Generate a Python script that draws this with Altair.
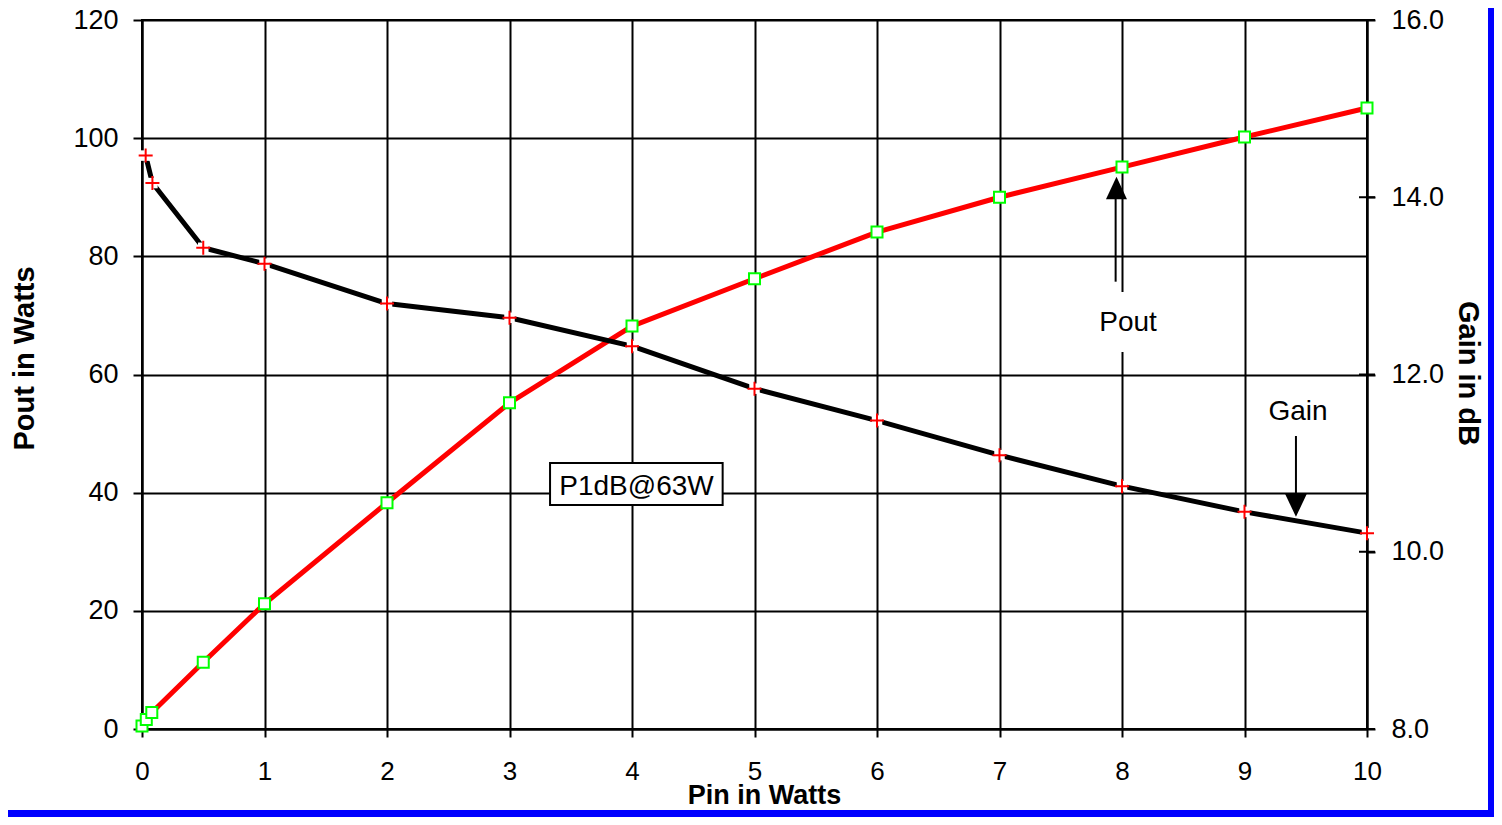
import altair as alt
import pandas as pd

FONT = "Arial, Liberation Sans, sans-serif"

# ---- data ----
pin_pout = [0.0, 0.035, 0.08, 0.5, 1, 2, 3, 4, 5, 6, 7, 8, 9, 10]
pout_w = [0.5, 1.6, 2.8, 11.3, 21.2, 38.3, 55.2, 68.2, 76.2, 84.1, 90.0, 95.1, 100.2, 105.1]
pin_gain = [0.03, 0.085, 0.5, 1, 2, 3, 4, 5, 6, 7, 8, 9, 10]
gain_db = [14.47, 14.16, 13.43, 13.25, 12.80, 12.64, 12.32, 11.84, 11.48, 11.09, 10.74, 10.45, 10.21]

x_ticks = [0, 1, 2, 3, 4, 5, 6, 7, 8, 9, 10]
pout_ticks = [0, 20, 40, 60, 80, 100, 120]
gain_ticks = [8, 10, 12, 14, 16]

pout_df = pd.DataFrame({"pin": pin_pout, "pout": pout_w})
gain_df = pd.DataFrame({"pin": pin_gain, "gain": gain_db})
tick_df = pd.DataFrame({"pin": [10] * len(gain_ticks), "gain": gain_ticks})

xs = alt.Scale(domain=[0, 10], nice=False, zero=False)
ysp = alt.Scale(domain=[0, 120], nice=False, zero=False)
ysg = alt.Scale(domain=[8, 16], nice=False, zero=False)

x_axis = alt.Axis(values=x_ticks, grid=True, gridColor="black", gridWidth=2,
                  tickSize=8, tickWidth=2, tickColor="black",
                  domainColor="black", domainWidth=2,
                  labelFont=FONT, labelFontSize=26, labelColor="black",
                  labelPadding=21, labelFlush=False, labelOverlap=False,
                  title="Pin in Watts", titleFont=FONT, titleFontSize=27,
                  titleFontWeight="bold", titleColor="black",
                  titleX=622, titleY=74, titleAlign="center",
                  titleBaseline="alphabetic")

yp_axis = alt.Axis(values=pout_ticks, grid=True, gridColor="black", gridWidth=2,
                   tickSize=9, tickWidth=2, tickColor="black",
                   domainColor="black", domainWidth=2,
                   labelFont=FONT, labelFontSize=27, labelColor="black",
                   labelPadding=15, labelFlush=False, labelOverlap=False,
                   title="Pout in Watts", titleFont=FONT, titleFontSize=29,
                   titleFontWeight="bold", titleColor="black",
                   titleAngle=270, titleX=-109, titleY=338,
                   titleAlign="center", titleBaseline="alphabetic")

yg_axis = alt.Axis(orient="right", values=gain_ticks, format=".1f", grid=False,
                   tickSize=8, tickWidth=2, tickColor="black",
                   domainColor="black", domainWidth=2,
                   labelFont=FONT, labelFontSize=27, labelColor="black",
                   labelPadding=16, labelFlush=False, labelOverlap=False,
                   title="Gain in dB", titleFont=FONT, titleFontSize=29,
                   titleFontWeight="bold", titleColor="black",
                   titleAngle=90, titleX=91, titleY=353,
                   titleAlign="center", titleBaseline="alphabetic")


def X(field="pin", axis=None):
    return alt.X(f"{field}:Q", scale=xs, axis=axis)


def YP(field="pout", axis=None):
    return alt.Y(f"{field}:Q", scale=ysp, axis=axis)


def YG(field="gain", axis=None):
    return alt.Y(f"{field}:Q", scale=ysg, axis=axis)


pout_line = alt.Chart(pout_df).mark_line(color="#FF0000", strokeWidth=5, strokeJoin="round").encode(
    x=X(axis=x_axis), y=YP(axis=yp_axis))

gain_line = alt.Chart(gain_df).mark_line(color="black", strokeWidth=5, strokeJoin="round").encode(
    x=X(), y=YG(axis=yg_axis))

inner_ticks = alt.Chart(tick_df).mark_tick(orient="horizontal", size=16, thickness=2,
                                           color="black", opacity=1).encode(
    x=X(), y=YG())

pout_pts = alt.Chart(pout_df).mark_point(shape="square", size=121, filled=True, fill="white",
                                         stroke="#00FF00", strokeWidth=2, opacity=1).encode(
    x=X(), y=YP())

gain_bg = alt.Chart(gain_df).mark_point(shape="square", size=110, filled=True, fill="white",
                                        strokeWidth=0, opacity=1).encode(x=X(), y=YG())

gain_pts = alt.Chart(gain_df).mark_point(shape="M-1,0L1,0M0,-1L0,1", size=196, filled=False,
                                         stroke="#FF0000", strokeWidth=2, opacity=1).encode(
    x=X(), y=YG())

# ---- annotations (in data coordinates) ----
p1db_box_df = pd.DataFrame({"x1": [3.331], "x2": [4.740], "y1": [37.91], "y2": [45.02]})
p1db_txt_df = pd.DataFrame({"x": [4.037], "y": [39.6], "t": ["P1dB@63W"]})
pout_box_df = pd.DataFrame({"x1": [7.74], "x2": [8.36], "y1": [63.81], "y2": [73.96]})
pout_txt_df = pd.DataFrame({"x": [8.049], "y": [67.28], "t": ["Pout"]})
pout_arr_df = pd.DataFrame({"x": [7.948], "y1": [75.71], "y2": [90.0]})
pout_head_df = pd.DataFrame({"x": [7.955], "y": [91.57]})
gain_txt_df = pd.DataFrame({"x": [9.437], "y": [11.487], "t": ["Gain"]})
gain_arr_df = pd.DataFrame({"x": [9.42], "y1": [11.306], "y2": [10.64]})
gain_head_df = pd.DataFrame({"x": [9.42], "y": [10.524]})

p1db_box = alt.Chart(p1db_box_df).mark_rect(fill="white", stroke="black", strokeWidth=2).encode(
    x=X("x1"), x2="x2", y=YP("y1"), y2="y2")
p1db_txt = alt.Chart(p1db_txt_df).mark_text(font=FONT, fontSize=28, color="black",
                                            align="center", baseline="alphabetic").encode(
    x=X("x"), y=YP("y"), text="t:N")

pout_box = alt.Chart(pout_box_df).mark_rect(fill="white", strokeWidth=0).encode(
    x=X("x1"), x2="x2", y=YP("y1"), y2="y2")
pout_txt = alt.Chart(pout_txt_df).mark_text(font=FONT, fontSize=28, color="black",
                                            align="center", baseline="alphabetic").encode(
    x=X("x"), y=YP("y"), text="t:N")
pout_arr = alt.Chart(pout_arr_df).mark_rule(color="black", strokeWidth=2).encode(
    x=X("x"), y=YP("y1"), y2="y2")
pout_head = alt.Chart(pout_head_df).mark_point(shape="M0,-1L-0.93,1L0.93,1Z", size=511, filled=True,
                                               fill="black", strokeWidth=0, opacity=1).encode(
    x=X("x"), y=YP("y"))

gain_txt = alt.Chart(gain_txt_df).mark_text(font=FONT, fontSize=28, color="black",
                                            align="center", baseline="alphabetic").encode(
    x=X("x"), y=YG("y"), text="t:N")
gain_arr = alt.Chart(gain_arr_df).mark_rule(color="black", strokeWidth=2).encode(
    x=X("x"), y=YG("y1"), y2="y2")
gain_head = alt.Chart(gain_head_df).mark_point(shape="M0,1L-0.95,-1L0.95,-1Z", size=529, filled=True,
                                               fill="black", strokeWidth=0, opacity=1).encode(
    x=X("x"), y=YG("y"))

# ---- blue frame on the right and bottom edges ----
blank = alt.Data(values=[{}])
frame_r = alt.Chart(blank).mark_rule(color="#0000FF", strokeWidth=6, strokeCap="butt").encode(
    x=alt.value(1349), y=alt.value(-12), y2=alt.value(797))
frame_b = alt.Chart(blank).mark_rule(color="#0000FF", strokeWidth=7, strokeCap="butt").encode(
    x=alt.value(-134), x2=alt.value(1352), y=alt.value(793.5))

chart = alt.layer(
    pout_line, gain_line, inner_ticks, pout_pts, gain_bg, gain_pts,
    p1db_box, p1db_txt, pout_box, pout_txt, pout_arr, pout_head,
    gain_txt, gain_arr, gain_head, frame_r, frame_b
).resolve_scale(x="independent", y="independent").properties(
    width=1225, height=709,
    autosize=alt.AutoSizeParams(type="none"),
    padding={"left": 134, "top": 12, "right": 127, "bottom": 88},
    background="white",
).configure_view(stroke="black", strokeWidth=2)

chart.save("out.html", embed_options={"renderer": "svg", "actions": False})
